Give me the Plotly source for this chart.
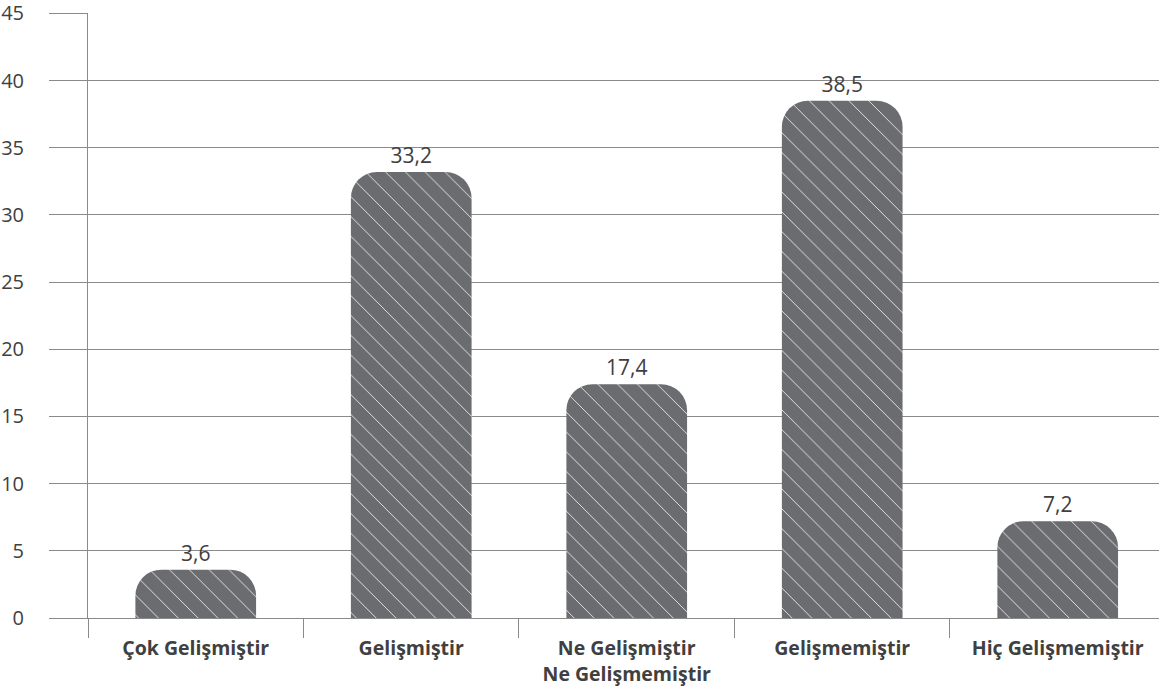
import plotly.graph_objects as go

categories = ["Çok Gelişmiştir", "Gelişmiştir", "Ne Gelişmiştir<br>Ne Gelişmemiştir",
              "Gelişmemiştir", "Hiç Gelişmemiştir"]
values = [3.6, 33.2, 17.4, 38.5, 7.2]
y_ticks = [0, 5, 10, 15, 20, 25, 30, 35, 40, 45]

TXT = "#404040"
GRID = "#8a8a8a"

fig = go.Figure(go.Bar(
    x=categories, y=values,
    width=0.56,
    marker=dict(
        color="#6b6c70",
        cornerradius=26,
        line=dict(width=0),
        pattern=dict(shape="\\", fgcolor="#e0e0e0", bgcolor="#6b6c70",
                     size=14, solidity=0.07, fillmode="replace"),
    ),
    texttemplate="%{y:.1f}",
    textposition="outside",
    textfont=dict(size=21, color=TXT, family="Open Sans"),
    cliponaxis=False,
))

fig.update_layout(
    width=1159, height=698,
    margin=dict(l=88, r=0, t=13, b=80, autoexpand=False),
    paper_bgcolor="white", plot_bgcolor="white",
    separators=",.",
    showlegend=False,
    font=dict(family="Open Sans", color=TXT),
)
fig.update_xaxes(
    type="category",
    range=[-0.5, 4.47],
    tickson="boundaries",
    ticks="outside", ticklen=19, tickcolor=GRID, tickwidth=1,
    showline=True, linecolor=GRID, linewidth=1,
    showgrid=False,
    automargin=False,
    ticklabelstandoff=13,
    tickfont=dict(size=19.5, color=TXT, family="Open Sans", weight="bold"),
)
fig.update_yaxes(
    range=[0, 45.03],
    tickvals=y_ticks,
    showgrid=True, gridcolor=GRID, gridwidth=1,
    showline=True, linecolor=GRID, linewidth=1,
    ticks="outside", ticklen=38, tickcolor=GRID, tickwidth=1,
    ticklabelstandoff=21,
    ticklabeloverflow="allow",
    automargin=False,
    tickfont=dict(size=20, color=TXT, family="Open Sans"),
    zeroline=False,
)

fig.write_html("out.html",
               config={"displayModeBar": False},
               post_script="document.body.style.margin='0';document.body.style.overflow='hidden';")
